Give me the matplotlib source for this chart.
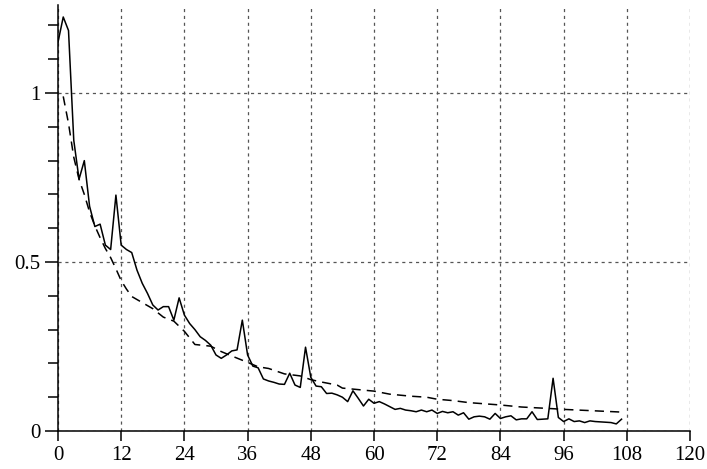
import numpy as np
import matplotlib
matplotlib.use("Agg")
import matplotlib.pyplot as plt
from matplotlib.ticker import MultipleLocator

plt.rcParams['font.family'] = ['Liberation Serif', 'DejaVu Serif']

# solid series, one value per month (x = 0..107)
actual = [1.15, 1.225, 1.185, 0.86, 0.745, 0.80, 0.665, 0.605, 0.612, 0.55,
          0.537, 0.698, 0.55, 0.537, 0.528, 0.476, 0.437, 0.407, 0.373, 0.358,
          0.368, 0.368, 0.328, 0.394, 0.343, 0.318, 0.30, 0.279, 0.268, 0.254,
          0.225, 0.215, 0.225, 0.237, 0.24, 0.328, 0.225, 0.192, 0.187, 0.154,
          0.148, 0.144, 0.139, 0.138, 0.171, 0.136, 0.129, 0.248, 0.159, 0.133,
          0.131, 0.111, 0.112, 0.107, 0.10, 0.087, 0.119, 0.097, 0.074, 0.094,
          0.082, 0.087, 0.08, 0.072, 0.064, 0.067, 0.062, 0.06, 0.057, 0.062,
          0.057, 0.062, 0.052, 0.058, 0.054, 0.057, 0.047, 0.054, 0.035, 0.042,
          0.044, 0.042, 0.035, 0.052, 0.037, 0.042, 0.045, 0.033, 0.036, 0.036,
          0.057, 0.034, 0.035, 0.036, 0.156, 0.04, 0.028, 0.036, 0.028, 0.03,
          0.025, 0.03, 0.028, 0.027, 0.026, 0.025, 0.021, 0.035]
months = np.arange(len(actual))

fit_x = [1, 2, 3, 4, 5, 6, 7, 8, 9, 10, 11, 12, 13, 14, 16, 18, 20, 22, 23, 24,
         26, 29, 31, 33, 36, 38, 40, 43, 46, 48, 50, 53, 54, 60, 63, 67, 70, 72,
         75, 78, 84, 88, 94, 96, 107]
fit_y = [0.99, 0.91, 0.81, 0.745, 0.70, 0.648, 0.607, 0.572, 0.54, 0.513, 0.48,
         0.445, 0.42, 0.398, 0.38, 0.362, 0.337, 0.325, 0.31, 0.295, 0.256,
         0.251, 0.235, 0.222, 0.203, 0.19, 0.185, 0.169, 0.163, 0.152, 0.145,
         0.136, 0.127, 0.118, 0.109, 0.103, 0.1, 0.094, 0.09, 0.084, 0.077,
         0.071, 0.066, 0.064, 0.056]

xticks = np.arange(0, 121, 12)
yticks = [0, 0.5, 1]

fig = plt.figure(figsize=(7.07, 4.69), dpi=100)
ax = fig.add_axes([0.082, 0.081, 0.894, 0.908])

ax.plot(months, actual, color='black', lw=1.1)
ax.plot(fit_x, fit_y, color='black', lw=1.1, linestyle=(0, (6, 4)))

ax.set_xlim(0, 120)
ax.set_ylim(0, 1.26)
ax.set_xticks(xticks)
ax.set_yticks(yticks)
ax.set_yticklabels(['0', '0.5', '1'])
ax.yaxis.set_minor_locator(MultipleLocator(0.1))

# dotted grid on the major ticks
ax.grid(True, which='major', color='#555555', linestyle=(0, (2.5, 3)), lw=0.9)
ax.set_axisbelow(True)

for s in ['top', 'right']:
    ax.spines[s].set_visible(False)
for s in ['left', 'bottom']:
    ax.spines[s].set_linewidth(1.1)

ax.tick_params(axis='x', which='major', direction='out', length=7.5, width=1.1,
               labelsize=15, pad=3)
ax.tick_params(axis='y', which='major', direction='out', length=9.5, width=1.1,
               labelsize=15, pad=3)
ax.tick_params(axis='y', which='minor', direction='out', length=7, width=1.1)

fig.savefig('out.png', dpi=100)
